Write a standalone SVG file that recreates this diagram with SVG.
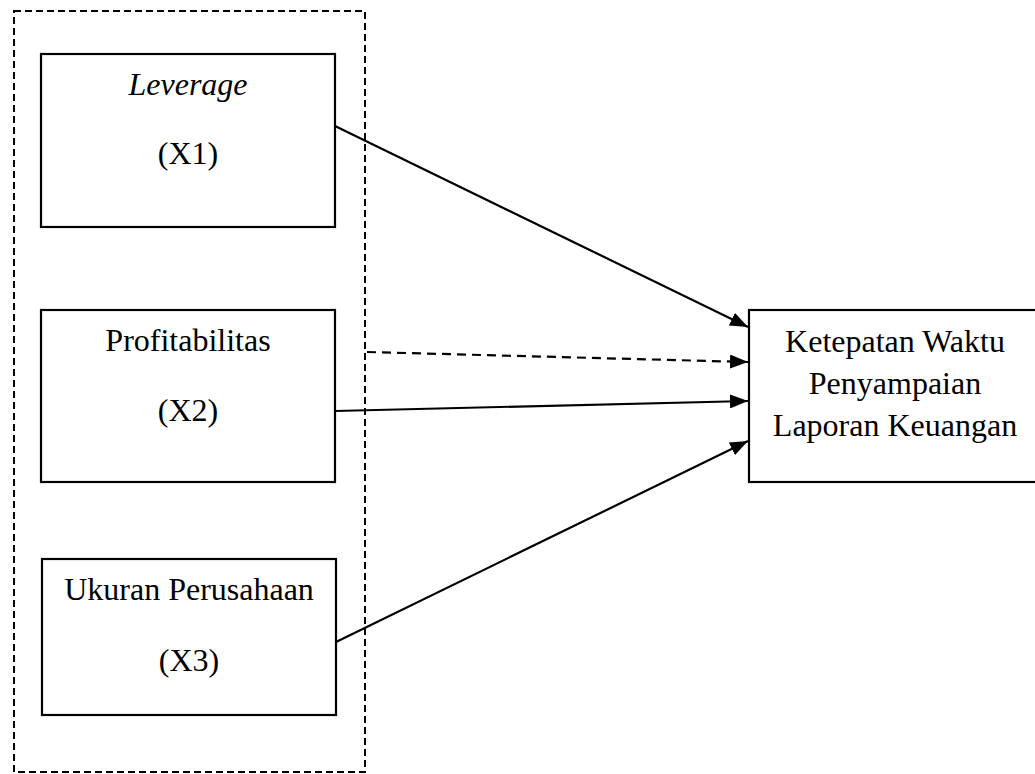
<svg xmlns="http://www.w3.org/2000/svg" width="1035" height="774" viewBox="0 0 1035 774">
<style>
.box{fill:#fff;stroke:#000;stroke-width:2.2}
.grp{fill:none;stroke:#000;stroke-width:2;stroke-dasharray:7,4}
.t{font-family:"Liberation Serif","Times New Roman",serif;font-size:32px;fill:#000;text-anchor:middle}
.ln{fill:none;stroke:#000;stroke-width:2.2}
.dash{stroke-dasharray:9,6}
</style>
<defs>
<marker id="ah" markerUnits="userSpaceOnUse" markerWidth="18" markerHeight="14" viewBox="0 0 18 14" refX="18" refY="7" orient="auto">
<path d="M0,0 L18,7 L0,14 Z" fill="#000"/>
</marker>
</defs>
<rect width="1035" height="774" fill="#fff"/>
<rect id="group" class="grp" x="14" y="11" width="351" height="761"/>
<g id="x1">
<rect class="box" x="41" y="54" width="294" height="173"/>
<text class="t" x="188" y="95" font-style="italic">Leverage</text>
<text class="t" x="188" y="164">(X1)</text>
</g>
<g id="x2">
<rect class="box" x="41" y="310" width="294" height="172"/>
<text class="t" x="188" y="351">Profitabilitas</text>
<text class="t" x="188" y="421">(X2)</text>
</g>
<g id="x3">
<rect class="box" x="42" y="559" width="294" height="156"/>
<text class="t" x="189" y="600">Ukuran Perusahaan</text>
<text class="t" x="189" y="671">(X3)</text>
</g>
<g id="y">
<rect class="box" x="749" y="310" width="294" height="172"/>
<text class="t" x="895" y="352">Ketepatan Waktu</text>
<text class="t" x="895" y="394">Penyampaian</text>
<text class="t" x="895" y="436">Laporan Keuangan</text>
</g>
<g id="connectors">
<line class="ln" x1="335" y1="126" x2="748" y2="327" marker-end="url(#ah)"/>
<line class="ln dash" x1="367" y1="352" x2="748" y2="362" marker-end="url(#ah)"/>
<line class="ln" x1="335" y1="411" x2="748" y2="401" marker-end="url(#ah)"/>
<line class="ln" x1="336" y1="642" x2="748" y2="441" marker-end="url(#ah)"/>
</g>
</svg>
